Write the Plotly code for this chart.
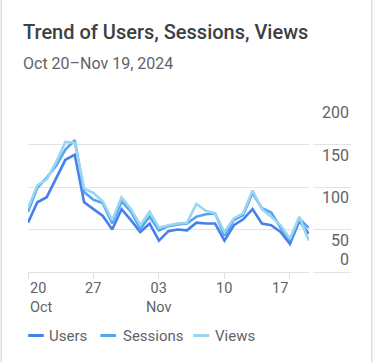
import datetime as dt
import plotly.graph_objects as go

# ---- data ----
start = dt.date(2024, 10, 20)
dates = [(start + dt.timedelta(days=i)).isoformat() for i in range(31)]
users = [58, 82, 88, 110, 132, 138, 82, 74, 66, 50, 74, 61, 47, 57, 37, 48,
         50, 49, 58, 57, 57, 37, 55, 62, 74, 57, 55, 47, 33, 60, 45]
sessions = [71, 99, 111, 125, 144, 155, 94, 85, 81, 57, 83, 71, 51, 65, 49, 54,
            56, 57, 65, 68, 69, 43, 61, 67, 93, 75, 70, 52, 37, 63, 52]
views = [75, 102, 109, 129, 153, 152, 98, 93, 83, 61, 88, 74, 55, 71, 52, 55,
         57, 58, 80, 72, 69, 47, 63, 69, 96, 74, 65, 55, 39, 65, 37]
series_names = ["Users", "Sessions", "Views"]
colors = ["#4680ec", "#51a5f2", "#9bd6f1"]
y_ticks = [0, 50, 100, 150, 200]
x_tick_dates = ["2024-10-20", "2024-10-27", "2024-11-03", "2024-11-10", "2024-11-17"]
x_tick_days = ["20", "27", "03", "10", "17"]
x_tick_months = ["Oct", "", "Nov", "", ""]
title_text = "Trend of Users, Sessions, Views"
subtitle_text = "Oct 20\u2013Nov 19, 2024"

# ---- geometry ----
W, H = 373, 362
L, R = 27.5, 351.0          # plot area pixel edges
T, B = 102.3, 271.7
px_per_day = (308.6 - 27.5) / 30.0
span_days = (R - L) / px_per_day
x0 = dt.datetime(2024, 10, 20)
x1 = x0 + dt.timedelta(days=span_days)

def px(xp):
    return (xp - L) / (R - L)

def py(yp):
    return (B - yp) / (B - T)

fig = go.Figure()
for name, vals, c in zip(series_names, [users, sessions, views], colors):
    fig.add_trace(go.Scatter(x=dates, y=vals, name=name, mode="lines",
                             line=dict(color=c, width=2.6), showlegend=False,
                             hoverinfo="skip"))

grey = "#5f6368"
font = "Roboto"
ann = []
# title & subtitle
ann.append(dict(text=title_text, x=px(20.5), y=py(32.5), xref="paper", yref="paper",
                xanchor="left", yanchor="middle", showarrow=False,
                font=dict(family=font, size=20, color="#3c4043", weight=500)))
ann.append(dict(text=subtitle_text, x=px(20.5), y=py(63.5), xref="paper", yref="paper",
                xanchor="left", yanchor="middle", showarrow=False,
                font=dict(family=font, size=16, color=grey)))
# y labels
for v in y_ticks:
    ann.append(dict(text=str(v), x=1, y=v, xref="paper", yref="y",
                    xanchor="right", yanchor="middle", showarrow=False,
                    yshift=(12.5 if v == 0 else -10.5),
                    font=dict(family=font, size=16, color=grey)))
# x labels (day, with month on a second line where present)
anchors = ["left", "center", "center", "center", "right"]
for d, t, m, a in zip(x_tick_dates, x_tick_days, x_tick_months, anchors):
    txt = t + ("<br>" + m if m else "")
    ann.append(dict(text=txt, x=d, y=py(277.5), xref="x", yref="paper",
                    xanchor=a, yanchor="top", align=a if a != "center" else "center",
                    showarrow=False,
                    font=dict(family=font, size=14.5, color=grey)))

shapes = []
# legend
leg_seg = [(27.7, 43.3, 48), (100, 115.7, 121.7), (193, 209, 214)]
for (a, b, tx), name, c in zip(leg_seg, series_names, colors):
    shapes.append(dict(type="line", xref="paper", yref="paper",
                       x0=px(a), x1=px(b), y0=py(335), y1=py(335),
                       line=dict(color=c, width=3)))
    ann.append(dict(text=name, x=px(tx - 1), y=py(335), xref="paper", yref="paper",
                    xanchor="left", yanchor="middle", showarrow=False,
                    font=dict(family=font, size=15, color=grey)))
# gap in gridlines between plot and labels
shapes.append(dict(type="rect", xref="paper", yref="paper",
                   x0=px(309.2), x1=px(313.2), y0=py(B + 8), y1=py(T - 2),
                   fillcolor="white", line=dict(width=0), layer="above"))
# card borders
for xb in (0.7, 371.8):
    shapes.append(dict(type="line", xref="paper", yref="paper",
                       x0=px(xb), x1=px(xb), y0=py(0), y1=py(H),
                       line=dict(color="#dadce0", width=1.4)))

fig.update_layout(
    width=W, height=H,
    margin=dict(l=L, r=W - R, t=T, b=H - B, pad=0),
    plot_bgcolor="white", paper_bgcolor="white",
    annotations=ann, shapes=shapes, showlegend=False,
    xaxis=dict(type="date", range=[x0.isoformat(), x1.isoformat()],
               showgrid=False, zeroline=False, showline=False,
               tickvals=x_tick_dates, showticklabels=False,
               ticks="outside", ticklen=6, tickcolor="#e0e0e0", tickwidth=1),
    yaxis=dict(range=[0, 200], tickvals=y_ticks, showticklabels=False,
               showgrid=True, gridcolor="#e3e3e3", gridwidth=1,
               zeroline=True, zerolinecolor="#e3e3e3", zerolinewidth=1,
               showline=False, side="right", fixedrange=True),
)
fig.write_html("out.html", config={"displayModeBar": False},
               post_script="document.body.style.margin='0';document.body.style.overflow='hidden';")
